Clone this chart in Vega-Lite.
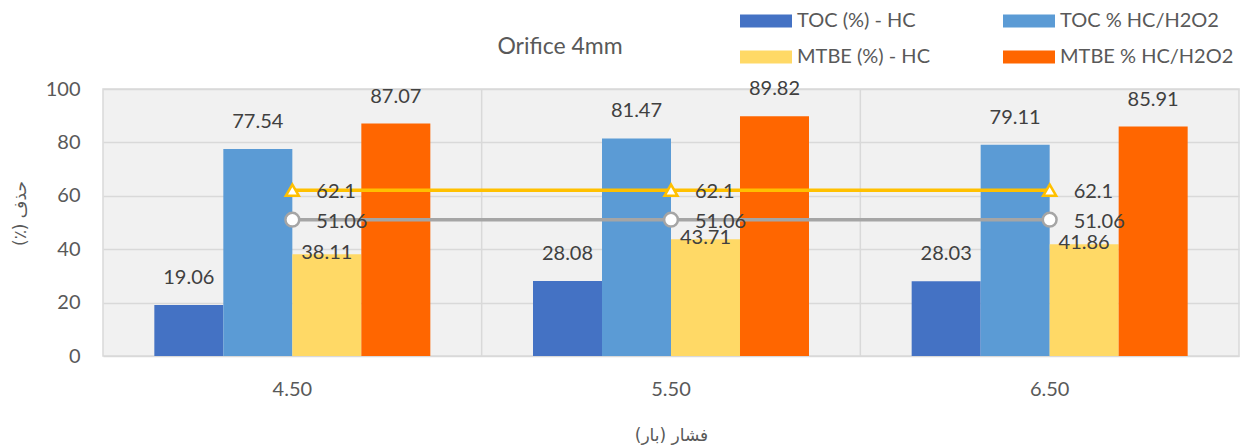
{
  "$schema": "https://vega.github.io/schema/vega-lite/v6.json",
  "autosize": {"type": "none"},
  "padding": {"left": 103, "top": 89, "right": 13, "bottom": 90},
  "width": 1136,
  "height": 267,
  "background": "white",
  "config": {
    "font": "Lato",
    "view": {"stroke": "#d9d9d9", "strokeWidth": 1.5, "fill": "#f1f1f1"}
  },
  "title": {
    "text": "Orifice 4mm",
    "fontSize": 23,
    "fontWeight": "normal",
    "color": "#595959",
    "font": "Lato",
    "anchor": "middle",
    "frame": "group",
    "dx": -111,
    "offset": 0,
    "dy": 64
  },
  "datasets": {
    "bars": [
      {"pressure": "4.50", "series": "TOC (%) - HC", "value": 19.06},
      {"pressure": "4.50", "series": "TOC  % HC/H2O2", "value": 77.54},
      {"pressure": "4.50", "series": "MTBE (%) - HC", "value": 38.11},
      {"pressure": "4.50", "series": "MTBE  % HC/H2O2", "value": 87.07},
      {"pressure": "5.50", "series": "TOC (%) - HC", "value": 28.08},
      {"pressure": "5.50", "series": "TOC  % HC/H2O2", "value": 81.47},
      {"pressure": "5.50", "series": "MTBE (%) - HC", "value": 43.71},
      {"pressure": "5.50", "series": "MTBE  % HC/H2O2", "value": 89.82},
      {"pressure": "6.50", "series": "TOC (%) - HC", "value": 28.03},
      {"pressure": "6.50", "series": "TOC  % HC/H2O2", "value": 79.11},
      {"pressure": "6.50", "series": "MTBE (%) - HC", "value": 41.86},
      {"pressure": "6.50", "series": "MTBE  % HC/H2O2", "value": 85.91}
    ],
    "lines": [
      {"pressure": "4.50", "line": "yellow", "value": 62.1},
      {"pressure": "5.50", "line": "yellow", "value": 62.1},
      {"pressure": "6.50", "line": "yellow", "value": 62.1},
      {"pressure": "4.50", "line": "gray", "value": 51.06},
      {"pressure": "5.50", "line": "gray", "value": 51.06},
      {"pressure": "6.50", "line": "gray", "value": 51.06}
    ]
  },
  "encoding": {
    "x": {
      "field": "pressure",
      "type": "ordinal",
      "scale": {"paddingInner": 0, "paddingOuter": 0},
      "title": "فشار (بار)",
      "axis": {
        "labelAngle": 0,
        "labelFontSize": 20,
        "labelColor": "#595959",
        "labelPadding": 23,
        "ticks": false,
        "domain": false,
        "grid": false,
        "titleFontSize": 17,
        "titleFontWeight": "normal",
        "titleColor": "#595959",
        "titlePadding": 28,
        "titleFont": "DejaVu Sans"
      }
    },
    "y": {
      "field": "value",
      "type": "quantitative",
      "scale": {"domain": [0, 100]},
      "title": "(٪) حذف",
      "axis": {
        "values": [0, 20, 40, 60, 80, 100],
        "labelFontSize": 20,
        "labelColor": "#595959",
        "labelPadding": 23,
        "ticks": false,
        "domain": false,
        "grid": true,
        "gridColor": "#d9d9d9",
        "gridWidth": 1.5,
        "titleFontSize": 17,
        "titleFontWeight": "normal",
        "titleColor": "#595959",
        "titlePadding": 16,
        "titleY": 124,
        "titleFont": "DejaVu Sans"
      }
    }
  },
  "layer": [
    {
      "data": {"name": "lines"},
      "transform": [{"filter": "datum.line === 'yellow' && datum.pressure !== '4.50'"}],
      "mark": {"type": "rule", "color": "#d9d9d9", "strokeWidth": 1.5},
      "encoding": {
        "x": {"field": "pressure", "type": "ordinal", "bandPosition": 0},
        "y": null
      }
    },
    {
      "data": {"name": "bars"},
      "mark": {"type": "bar"},
      "encoding": {
        "xOffset": {
          "field": "series",
          "type": "nominal",
          "sort": ["TOC (%) - HC", "TOC  % HC/H2O2", "MTBE (%) - HC", "MTBE  % HC/H2O2"],
          "scale": {"paddingInner": 0, "paddingOuter": 0.744}
        },
        "color": {
          "field": "series",
          "type": "nominal",
          "scale": {
            "domain": ["TOC (%) - HC", "TOC  % HC/H2O2", "MTBE (%) - HC", "MTBE  % HC/H2O2"],
            "range": ["#4472C4", "#5B9BD5", "#FFD966", "#FF6600"]
          },
          "legend": {
            "title": null,
            "orient": "none",
            "direction": "horizontal",
            "legendX": 637,
            "legendY": -94,
            "columns": 2,
            "columnPadding": 73,
            "rowPadding": 0,
            "labelFontSize": 20,
            "labelColor": "#595959",
            "labelFont": "Lato",
            "labelOffset": 5,
            "labelLimit": 300,
            "symbolType": "M-1,-0.25H1V0.25H-1Z",
            "symbolSize": 2704,
            "symbolStrokeWidth": 0,
            "symbolOpacity": 1
          }
        }
      }
    },
    {
      "data": {"name": "lines"},
      "transform": [{"filter": "datum.line === 'gray'"}],
      "mark": {
        "type": "line",
        "color": "#A5A5A5",
        "strokeWidth": 3.5,
        "point": {"filled": true, "fill": "white", "stroke": "#A5A5A5", "strokeWidth": 2.5, "size": 190, "shape": "circle"}
      },
      "encoding": {}
    },
    {
      "data": {"name": "lines"},
      "transform": [{"filter": "datum.line === 'yellow'"}],
      "mark": {
        "type": "line",
        "color": "#FFC000",
        "strokeWidth": 3.5,
        "point": {"filled": true, "fill": "white", "stroke": "#FFC000", "strokeWidth": 2.5, "size": 170, "shape": "triangle-up"}
      },
      "encoding": {}
    },
    {
      "data": {"name": "bars"},
      "transform": [{"filter": "datum.series !== 'MTBE (%) - HC'"}],
      "mark": {"type": "text", "fontSize": 20, "color": "#404040", "baseline": "middle", "dy": -27, "font": "Lato"},
      "encoding": {
        "xOffset": {
          "field": "series",
          "type": "nominal",
          "sort": ["TOC (%) - HC", "TOC  % HC/H2O2", "MTBE (%) - HC", "MTBE  % HC/H2O2"]
        },
        "text": {"field": "value", "type": "quantitative", "format": ".2f"}
      }
    },
    {
      "data": {"name": "bars"},
      "transform": [{"filter": "datum.series === 'MTBE (%) - HC'"}],
      "mark": {"type": "text", "fontSize": 20, "color": "#404040", "baseline": "middle", "dy": -1, "font": "Lato"},
      "encoding": {
        "xOffset": {
          "field": "series",
          "type": "nominal",
          "sort": ["TOC (%) - HC", "TOC  % HC/H2O2", "MTBE (%) - HC", "MTBE  % HC/H2O2"]
        },
        "text": {"field": "value", "type": "quantitative", "format": ".2f"}
      }
    },
    {
      "data": {"name": "lines"},
      "mark": {"type": "text", "fontSize": 20, "color": "#404040", "baseline": "middle", "align": "left", "dx": 24, "dy": 2, "font": "Lato"},
      "encoding": {
        "text": {"field": "value", "type": "quantitative"}
      }
    }
  ]
}
